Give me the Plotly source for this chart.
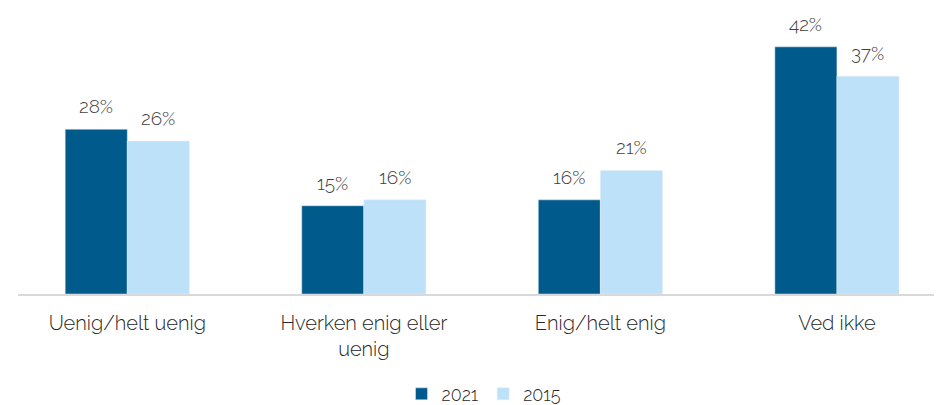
import plotly.graph_objects as go

kategorier = ["Uenig/helt uenig", "Hverken enig eller<br>uenig", "Enig/helt enig", "Ved ikke"]
verdier_2021 = [28, 15, 16, 42]
verdier_2015 = [26, 16, 21, 37]

MORK = "#005A8C"
LYS = "#BEE1FA"
TEKST = "#262626"
SKRIFT = "Raleway, 'Open Sans', sans-serif"

fig = go.Figure()
fig.add_trace(go.Bar(x=kategorier, y=verdier_2021, name="2021", marker_color=MORK))
fig.add_trace(go.Bar(x=kategorier, y=verdier_2015, name="2015", marker_color=LYS))

# etiketter over søylene
for serie, skift in ((verdier_2021, -31), (verdier_2015, 31)):
    for kat, v in zip(kategorier, serie):
        fig.add_annotation(
            x=kat, y=v, text=f"{v}%", showarrow=False,
            xshift=skift, yshift=10, yanchor="bottom",
            font=dict(family=SKRIFT, size=19, color="#404040", weight=300),
        )

fig.update_layout(
    width=942, height=405,
    barmode="group", bargap=0.475, bargroupgap=0,
    paper_bgcolor="white", plot_bgcolor="white",
    font=dict(family=SKRIFT, color=TEKST, size=20, weight=300),
    margin=dict(l=10, r=0, t=0, b=117),
    showlegend=True,
    legend=dict(orientation="h", x=0.5, xanchor="center", y=-0.35, yanchor="middle",
                font=dict(size=18, weight=300), itemwidth=30, traceorder="normal"),
)
fig.update_xaxes(
    range=[-0.462, 3.478], showline=True, linecolor="#D9D9D9", linewidth=2,
    ticks="", ticklabelstandoff=10, tickfont=dict(size=20, color=TEKST, weight=300),
)
fig.update_yaxes(range=[0, 48.6], visible=False, showgrid=False)

fig.write_html("out.html")
